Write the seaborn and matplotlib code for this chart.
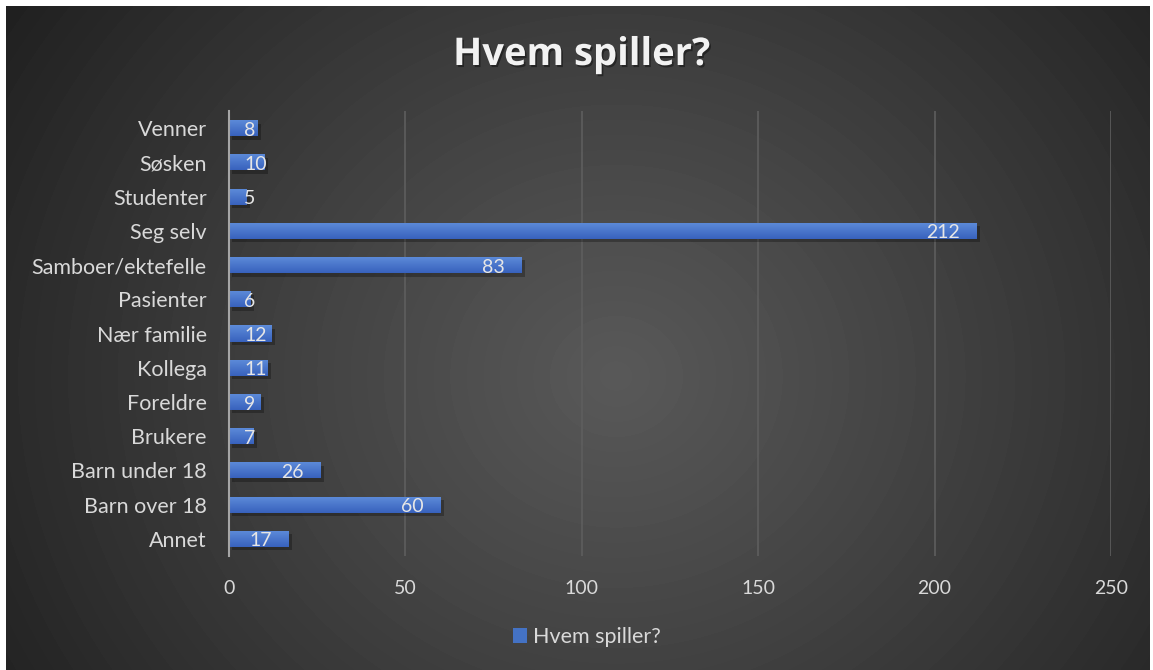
import numpy as np
import pandas as pd
import matplotlib.pyplot as plt
import matplotlib.patheffects as pe
from matplotlib.patches import Patch
import seaborn as sns

categories = ['Venner', 'Søsken', 'Studenter', 'Seg selv', 'Samboer/ektefelle', 'Pasienter',
              'Nær familie', 'Kollega', 'Foreldre', 'Brukere', 'Barn under 18', 'Barn over 18', 'Annet']
values = [8, 10, 5, 212, 83, 6, 12, 11, 9, 7, 26, 60, 17]
series_name = 'Hvem spiller?'
xticks = [0, 50, 100, 150, 200, 250]

df = pd.DataFrame({'kategori': categories, 'antall': values})

sns.set_theme(style='white')
plt.rcParams['font.family'] = ['Lato', 'DejaVu Sans']

W, H = 1153, 670
fig = plt.figure(figsize=(W / 100, H / 100), dpi=100)
fig.patch.set_facecolor('white')

# radial background, softly banded like the office gradient
bg = fig.add_axes([6 / W, 0, 1144 / W, 664 / H], zorder=-5)
yy, xx = np.mgrid[0:664, 0:1144]
r = np.hypot((xx - 610) / 1.1, (yy - 370) / 1.0) / 680
r = np.clip(r, 0, 1)
r = np.floor(r * 45) / 45
shade = (0x58 - (0x58 - 0x1e) * r ** 1.1) / 255
bg.imshow(np.dstack([shade, shade, shade]), aspect='auto', interpolation='bilinear')
bg.axis('off')

ax = fig.add_axes([229 / W, 1 - 556 / H, 882 / W, 445 / H])
ax.set_facecolor('none')

sns.barplot(data=df, x='antall', y='kategori', order=categories, color='#4472c4',
            width=0.47, ax=ax, zorder=3, linewidth=0, edgecolor='none')

grad = np.linspace(0, 1, 50)[:, None]
top = np.array([0x5e, 0x8c, 0xda]) / 255
bot = np.array([0x38, 0x62, 0xbd]) / 255
cols = top[None, None, :] * (1 - grad[..., None]) + bot[None, None, :] * grad[..., None]
for p in ax.patches:
    p.set_path_effects([pe.withSimplePatchShadow(offset=(2.5, -2.5), shadow_rgbFace='black', alpha=0.28),
                        pe.Normal()])
    x0, y0, w, h = p.get_x(), p.get_y(), p.get_width(), p.get_height()
    im = ax.imshow(cols, extent=(x0, x0 + w, y0 + h, y0), aspect='auto', zorder=4)
    im.set_clip_path(p)

ax.set_xlim(0, 250)
ax.set_ylim(len(categories) - 0.5, -0.5)
ax.set_xticks(xticks)
ax.set_xticklabels([str(t) for t in xticks])
ax.xaxis.grid(True, color='#5e5e5e', linewidth=1.2, zorder=0)
ax.set_axisbelow(True)
for s in ['top', 'right', 'bottom']:
    ax.spines[s].set_visible(False)
ax.spines['left'].set_color('#a6a6a6')
ax.spines['left'].set_linewidth(1.5)
ax.spines['left'].set_zorder(5)
ax.tick_params(axis='both', length=0, colors='#d9d9d9')
ax.tick_params(axis='x', pad=17, labelsize=14)
ax.tick_params(axis='y', pad=16, labelsize=15.5)
ax.set_xlabel('')
ax.set_ylabel('')

px_per_unit = 882 / 250
for p, v in zip(ax.patches, values):
    yc = p.get_y() + p.get_height() / 2
    txt_w = 10.5 * len(str(v))
    if v * px_per_unit - 17 - txt_w < 14:
        ax.annotate(str(v), (0, yc), xytext=(15 * 0.72, -1.5), textcoords='offset points',
                    ha='left', va='center', color='#e6e6e6', fontsize=14, zorder=6)
    else:
        ax.annotate(str(v), (v, yc), xytext=(-17 * 0.72, -1.5), textcoords='offset points',
                    ha='right', va='center', color='#e6e6e6', fontsize=14, zorder=6)

fig.text(582 / W, 1 - 55 / H, series_name, ha='center', va='center', color='#f2f2f2',
         fontsize=27.5, fontweight='bold', family=['Open Sans', 'DejaVu Sans'],
         path_effects=[pe.withSimplePatchShadow(offset=(1.2, -1.5), shadow_rgbFace='black', alpha=0.4)])

leg = fig.legend(handles=[Patch(facecolor='#4472c4', edgecolor='none', label=series_name)],
                 loc='center', bbox_to_anchor=(587 / W, 1 - 637 / H), frameon=False,
                 fontsize=15.5, handlelength=0.65, handleheight=0.65, handletextpad=0.3)
for t in leg.get_texts():
    t.set_color('#d9d9d9')

fig.savefig('out.png', dpi=100, facecolor=fig.get_facecolor())
